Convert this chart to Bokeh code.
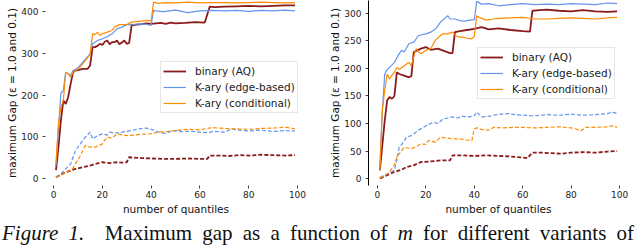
from bokeh.plotting import figure
from bokeh.models import Range1d, Legend, LegendItem, Div
from bokeh.layouts import row, column
from bokeh.embed import file_html
from bokeh.resources import INLINE

# ---------------- data ----------------
x_ticks = [0, 20, 40, 60, 80, 100]
left_y_ticks = [0, 100, 200, 300, 400]
right_y_ticks = [0, 50, 100, 150, 200, 250, 300]
labels = ["binary (AQ)", "K-ary (edge-based)", "K-ary (conditional)"]

# Left panel, epsilon = 1.0 (solid)
L_bin_hi_x = [1, 2, 3, 4, 5, 6, 7, 8, 9, 10, 12, 14, 15, 16, 17, 18, 19, 20, 21, 22, 23, 24, 25, 26, 27, 28, 29, 30, 31, 32, 34, 36, 38, 40, 42, 44, 46, 48, 50, 54, 58, 62, 64, 66, 70, 75, 80, 85, 90, 95, 99]
L_bin_hi_y = [20, 75, 139, 187, 179, 195, 227, 255, 259, 260, 263, 263, 271, 315, 315, 318, 323, 320, 328, 331, 322, 327, 327, 331, 322, 326, 331, 323, 325, 367, 369, 370, 372, 371, 372, 373, 371, 374, 372, 373, 375, 374, 412, 411, 412, 413, 414, 413, 414, 415, 415]
L_edge_hi_x = [1, 2, 3, 4, 5, 6, 7, 8, 9, 10, 12, 14, 15, 16, 17, 18, 20, 22, 24, 26, 28, 30, 32, 34, 36, 38, 40, 41, 42, 45, 50, 55, 60, 65, 70, 75, 80, 85, 90, 95, 99]
L_edge_hi_y = [30, 120, 205, 211, 255, 252, 247, 259, 262, 266, 279, 292, 299, 323, 327, 331, 335, 340, 347, 359, 363, 369, 369, 370, 371, 370, 367, 403, 402, 400, 404, 398, 402, 403, 402, 403, 401, 403, 402, 404, 402]
L_cond_hi_x = [1, 2, 3, 4, 5, 6, 7, 8, 10, 12, 14, 15, 16, 17, 18, 19, 20, 22, 24, 25, 27, 30, 32, 35, 38, 40, 41, 43, 46, 50, 55, 60, 65, 70, 75, 80, 85, 90, 95, 99]
L_cond_hi_y = [36, 131, 170, 187, 255, 251, 243, 255, 262, 275, 290, 299, 347, 345, 351, 343, 347, 351, 355, 363, 369, 369, 375, 377, 379, 378, 423, 420, 422, 421, 423, 421, 422, 422, 421, 422, 423, 422, 421, 422]

# Left panel, epsilon = 0.1 (dashed)
L_bin_lo_x = [1, 3, 5, 7, 9, 12, 15, 17, 20, 23, 26, 28, 30, 31, 33, 36, 40, 45, 50, 55, 60, 63, 64, 68, 72, 76, 80, 85, 90, 95, 99]
L_bin_lo_y = [3, 9, 15, 19, 23, 27, 31, 35, 39, 37, 39, 38, 39, 51, 50, 49, 48, 47, 47, 48, 47, 47, 55, 55, 54, 56, 55, 57, 56, 55, 56]
L_edge_lo_x = [1, 3, 5, 7, 9, 11, 13, 15, 16, 18, 20, 22, 23, 25, 28, 30, 32, 35, 38, 40, 42, 44, 46, 48, 50, 53, 56, 60, 63, 66, 70, 73, 76, 80, 85, 90, 95, 99]
L_edge_lo_y = [3, 11, 23, 35, 67, 83, 99, 111, 95, 103, 107, 104, 111, 109, 111, 113, 115, 119, 121, 118, 114, 110, 108, 113, 115, 112, 114, 111, 110, 113, 111, 119, 116, 114, 116, 113, 115, 114]
L_cond_lo_x = [1, 3, 5, 7, 8, 9, 10, 11, 12, 13, 15, 17, 19, 20, 21, 22, 24, 26, 28, 30, 33, 36, 40, 42, 45, 48, 50, 55, 60, 65, 70, 75, 80, 85, 90, 95, 99]
L_cond_lo_y = [3, 8, 14, 20, 25, 35, 45, 55, 67, 79, 75, 75, 80, 83, 92, 99, 97, 107, 105, 103, 104, 106, 107, 110, 112, 114, 115, 118, 117, 122, 120, 119, 118, 120, 121, 123, 119]

# Right panel, epsilon = 1.0 (solid)
R_bin_hi_x = [1, 2, 3, 4, 5, 6, 7, 8, 9, 11, 13, 14, 15, 16, 18, 20, 22, 25, 28, 30, 31, 32, 34, 37, 40, 43, 46, 50, 55, 60, 63, 64, 67, 70, 75, 80, 85, 90, 95, 99]
R_bin_hi_y = [15, 60, 105, 142, 148, 145, 150, 193, 190, 187, 184, 186, 230, 232, 236, 239, 234, 236, 231, 228, 228, 266, 268, 270, 272, 275, 271, 273, 270, 268, 267, 305, 306, 307, 305, 304, 306, 304, 303, 304]
R_edge_hi_x = [1, 2, 3, 4, 5, 7, 9, 10, 11, 13, 15, 17, 20, 22, 24, 26, 28, 29, 30, 32, 34, 36, 38, 40, 41, 43, 46, 50, 55, 60, 65, 70, 75, 80, 85, 90, 95, 99]
R_edge_hi_y = [21, 122, 190, 198, 202, 211, 227, 233, 230, 245, 248, 260, 263, 266, 272, 284, 292, 296, 290, 290, 287, 286, 288, 289, 322, 317, 318, 314, 316, 318, 316, 317, 316, 318, 317, 316, 319, 318]
R_cond_hi_x = [1, 2, 3, 4, 5, 6, 7, 8, 9, 11, 13, 14, 15, 16, 17, 18, 20, 22, 24, 25, 27, 29, 31, 33, 35, 37, 39, 40, 41, 42, 45, 48, 50, 55, 60, 65, 70, 75, 80, 85, 90, 95, 99]
R_cond_hi_y = [15, 124, 160, 190, 181, 188, 193, 202, 198, 205, 211, 205, 221, 236, 230, 227, 233, 236, 252, 256, 263, 263, 266, 258, 257, 255, 254, 258, 296, 293, 288, 290, 291, 292, 293, 290, 290, 291, 292, 291, 290, 292, 293]

# Right panel, epsilon = 0.1 (dashed)
R_bin_lo_x = [1, 4, 7, 10, 12, 15, 18, 22, 26, 30, 31, 35, 40, 45, 50, 55, 60, 62, 64, 68, 72, 76, 80, 85, 90, 95, 99]
R_bin_lo_y = [0, 6, 12, 16, 21, 24, 30, 31, 33, 33, 42, 42, 41, 42, 41, 40, 38, 37, 47, 47, 46, 45, 47, 48, 47, 49, 50]
R_edge_lo_x = [1, 4, 7, 8, 9, 10, 12, 14, 15, 17, 19, 21, 23, 25, 27, 29, 31, 33, 35, 38, 40, 41, 43, 46, 48, 51, 54, 57, 60, 65, 70, 75, 80, 85, 90, 95, 97, 99]
R_edge_lo_y = [2, 8, 15, 35, 57, 62, 75, 78, 81, 88, 93, 98, 102, 100, 108, 110, 112, 110, 113, 112, 114, 121, 112, 113, 115, 117, 118, 116, 115, 114, 116, 115, 117, 115, 116, 118, 121, 118]
R_cond_lo_x = [1, 3, 5, 7, 8, 9, 11, 13, 14, 16, 18, 20, 21, 22, 24, 26, 28, 31, 34, 37, 39, 40, 41, 43, 46, 48, 52, 56, 60, 65, 70, 75, 80, 82, 84, 86, 90, 95, 97, 99]
R_cond_lo_y = [1, 5, 12, 25, 39, 45, 57, 55, 54, 58, 63, 62, 69, 68, 66, 75, 74, 72, 72, 70, 69, 90, 92, 89, 88, 93, 92, 93, 93, 92, 93, 94, 92, 90, 87, 93, 93, 94, 96, 93]

COL_BIN = "#8b1a1a"
COL_EDGE = "#6495ed"
COL_COND = "#ff8c00"
FONT = "DejaVu Sans"


def make_panel(xr, yr, yticks, mb_left, mb_right, spine, series_hi, series_lo, legend_loc):
    p = figure(width=320, height=223, x_range=Range1d(*xr), y_range=Range1d(*yr),
               output_backend="svg", toolbar_location=None,
               min_border_left=mb_left, min_border_right=mb_right,
               min_border_top=0, min_border_bottom=38)
    p.grid.visible = False
    p.outline_line_color = None
    p.background_fill_color = "white"
    p.border_fill_color = "white"

    for ax in (p.xaxis[0], p.yaxis[0]):
        ax.major_tick_out = 3
        ax.major_tick_in = 0
        ax.minor_tick_line_color = None
        ax.major_tick_line_color = "#444444"
        ax.major_label_text_font = FONT
        ax.major_label_text_font_size = "9px"
        ax.major_label_text_color = "#222222"
        ax.axis_label_text_font = FONT
        ax.axis_label_text_font_size = "10.5px"
        ax.axis_label_text_font_style = "normal"
        ax.axis_label_text_color = "#111111"
    p.xaxis.ticker = x_ticks
    p.yaxis.ticker = yticks
    p.xaxis.axis_line_color = None
    p.yaxis.axis_line_color = "#000000" if spine else None
    p.xaxis.major_label_standoff = 2
    p.yaxis.major_label_standoff = 4
    p.xaxis.axis_label_standoff = 2
    p.yaxis.axis_label_standoff = 0
    p.xaxis.axis_label = "number of quantiles"
    p.yaxis.axis_label = "maximum Gap (\u03b5 = 1.0 and 0.1)"

    cols = [COL_BIN, COL_EDGE, COL_COND]
    widths = [1.8, 1.2, 1.2]
    renderers = []
    for (x, y), c, w in zip(series_lo, cols, widths):
        p.line(x, y, line_color=c, line_width=w, line_dash="4 2")
    for (x, y), c, w in zip(series_hi, cols, widths):
        renderers.append(p.line(x, y, line_color=c, line_width=w))

    items = [LegendItem(label=lab, renderers=[r]) for lab, r in zip(labels, renderers)]
    leg = Legend(items=items, location=legend_loc,
                 label_text_font=FONT, label_text_font_size="10.5px",
                 label_text_color="#222222",
                 label_height=14, glyph_height=14, glyph_width=23,
                 label_standoff=9, spacing=2, padding=2, margin=0,
                 border_line_color="#cccccc", border_line_width=1,
                 background_fill_color="white", background_fill_alpha=0.85)
    p.add_layout(leg)
    return p


p1 = make_panel((-3.3, 103.7), (-16.8, 426.9), left_y_ticks, 45, 14, False,
                [(L_bin_hi_x, L_bin_hi_y), (L_edge_hi_x, L_edge_hi_y), (L_cond_hi_x, L_cond_hi_y)],
                [(L_bin_lo_x, L_bin_lo_y), (L_edge_lo_x, L_edge_lo_y), (L_cond_lo_x, L_cond_lo_y)],
                (115, 72))
p2 = make_panel((-3.7, 103.7), (-12.7, 323.6), right_y_ticks, 48, 12, True,
                [(R_bin_hi_x, R_bin_hi_y), (R_edge_hi_x, R_edge_hi_y), (R_cond_hi_x, R_cond_hi_y)],
                [(R_bin_lo_x, R_bin_lo_y), (R_edge_lo_x, R_edge_lo_y), (R_cond_lo_x, R_cond_lo_y)],
                (109, 86))

caption = Div(
    text=("<div style=\"font-family:'Liberation Serif';font-size:21px;line-height:21px;"
          "white-space:nowrap;color:#111;margin:0;padding:0;width:632px;margin-left:2px;"
          "text-align:justify;text-align-last:justify;\">"
          "<i>Figure 1.</i>&nbsp; Maximum gap as a function of <i>m</i> for different variants of"
          "</div>"),
    width=640, height=22, margin=0)

layout = column(row(p1, p2, spacing=0), caption, spacing=0)

open("out.html", "w").write(file_html(layout, INLINE))
